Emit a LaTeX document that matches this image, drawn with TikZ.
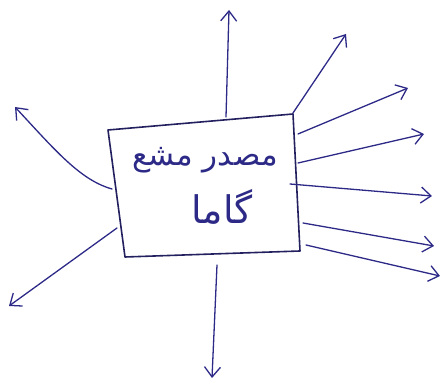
\documentclass[tikz,border=0pt]{standalone}
\usepackage{fontspec}
\usetikzlibrary{arrows.meta}
\TeXXeTstate=1
\newfontfamily\arabicfont[Script=Arabic]{DejaVu Sans}
\definecolor{ink}{RGB}{45,42,135}
\definecolor{boxink}{RGB}{35,32,95}
\tikzset{
  ray/.style={draw=ink, line width=1.3pt, line cap=round,
    -{Straight Barb[length=10pt,width=16pt,line width=1.3pt]}},
  boxline/.style={draw=boxink, line width=1.6pt, line join=round},
  lbl/.style={text=ink, font=\arabicfont, inner sep=0pt}
}
\begin{document}
\begin{tikzpicture}[x=1pt,y=-1pt]
\useasboundingbox (0,0) rectangle (445,387);
% box corners
\coordinate (tl) at (108,130);
\coordinate (tr) at (293,114);
\coordinate (br) at (300,251);
\coordinate (bl) at (125,257);
\draw[boxline] (tl) -- (tr) -- (br) -- (bl) -- cycle;
% text
\node[lbl, font=\arabicfont\fontsize{31}{34}\selectfont] (t1) at (205,160) {\beginR مصدر مشع\endR};
\node[lbl, font=\arabicfont\fontsize{38}{42}\selectfont] (t2) at (222,207) {\beginR گاما\endR};
% ray start points
\coordinate (s1) at (226,117);
\coordinate (s2) at (293,113);
\coordinate (s3) at (298,134);
\coordinate (s4) at (298,163);
\coordinate (s5) at (290,184);
\coordinate (s6) at (303,223);
\coordinate (s7) at (306,245);
\coordinate (s8) at (217,265);
\coordinate (s9) at (117,228);
\coordinate (s10) at (112,189);
% ray end points
\coordinate (e1) at (229,10);
\coordinate (e2) at (346,34);
\coordinate (e3) at (408,88);
\coordinate (e4) at (424,134);
\coordinate (e5) at (432,196);
\coordinate (e6) at (434,246);
\coordinate (e7) at (440,276);
\coordinate (e8) at (212,378);
\coordinate (e9) at (9,306);
\coordinate (e10) at (15,107);
\draw[ray] (s1) -- (e1);
\draw[ray] (s2) -- (e2);
\draw[ray] (s3) -- (e3);
\draw[ray] (s4) -- (e4);
\draw[ray] (s5) -- (e5);
\draw[ray] (s6) -- (e6);
\draw[ray] (s7) -- (e7);
\draw[ray] (s8) -- (e8);
\draw[ray] (s9) -- (e9);
\draw[ray] (s10) .. controls (80,180) and (55,150) .. (e10);
\end{tikzpicture}
\end{document}
